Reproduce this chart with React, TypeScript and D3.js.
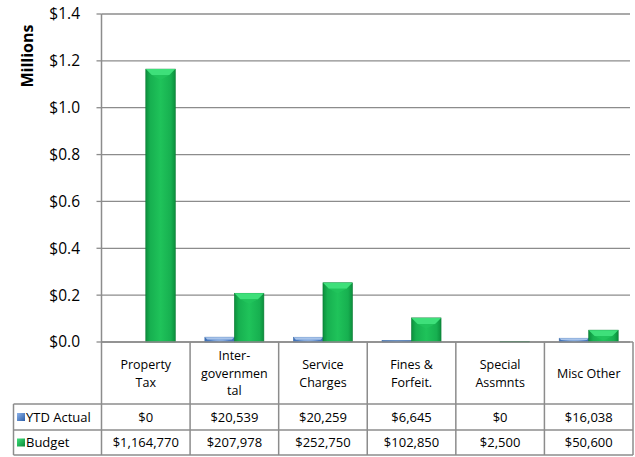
import React from "react";
import * as d3 from "d3";

const categories = [
  ["Property", "Tax"],
  ["Inter-", "governmen", "tal"],
  ["Service", "Charges"],
  ["Fines &", "Forfeit."],
  ["Special", "Assmnts"],
  ["Misc Other"],
];
const ytdActual = [0, 20539, 20259, 6645, 0, 16038];
const budget = [1164770, 207978, 252750, 102850, 2500, 50600];
const yTicks = [0, 0.2, 0.4, 0.6, 0.8, 1.0, 1.2, 1.4];
const seriesNames = ["YTD Actual", "Budget"];

const W = 635, H = 457;
const left = 101.5, right = 633, top = 14, bottom = 342;
const rowHeader = 404, rowYtd = 430, rowBudget = 455;
const tableLeft = 13.5;
const FONT = "'Open Sans', sans-serif";
const gridColor = "#8c8c8c";

export default function App() {
  const x = d3.scaleBand<number>().domain(d3.range(categories.length)).range([left, right]);
  const y = d3.scaleLinear().domain([0, 1.4]).range([bottom, top]);
  const bw = x.bandwidth() * 0.333;
  const fmt = (v: number) => "$" + d3.format(",")(v);

  const bar = (i: number, v: number, s: number) => {
    const cx = x(i)! + x.bandwidth() / 2;
    const x0 = s === 0 ? cx - bw : cx;
    const yv = y(v / 1e6);
    const h = bottom - yv;
    if (h <= 0.3) return null;
    const bev = Math.min(6, h / 2);
    const fill = s === 0 ? "url(#gBlue)" : "url(#gGreen)";
    const topFill = s === 0 ? "#a9c4ea" : "#3ee07a";
    return (
      <g key={`b${s}-${i}`}>
        <rect x={x0} y={yv} width={bw} height={h} fill={fill} stroke={s === 0 ? "#3b6aa8" : "#0b7a34"} strokeWidth={0.6} />
        {h > 3 && (
          <>
            <polygon points={`${x0},${yv} ${x0 + bw},${yv} ${x0 + bw - bev},${yv + bev} ${x0 + bev},${yv + bev}`} fill={topFill} />
            <polygon points={`${x0 + bev},${yv + bev} ${x0 + bw - bev},${yv + bev} ${x0 + bw / 2},${yv + bev * 1.8}`} fill={s === 0 ? "#8fb0df" : "#22c45c"} opacity={0.8} />
          </>
        )}
      </g>
    );
  };

  return (
    <svg width={W} height={H} style={{ position: "absolute", left: 0, top: 0, background: "#fff" }}>
      <defs>
        <linearGradient id="gGreen" x1="0" x2="1" y1="0" y2="0">
          <stop offset="0" stopColor="#0c8f3d" />
          <stop offset="0.15" stopColor="#17b050" />
          <stop offset="0.5" stopColor="#1fc35a" />
          <stop offset="0.85" stopColor="#17b050" />
          <stop offset="1" stopColor="#0c8f3d" />
        </linearGradient>
        <linearGradient id="gBlue" x1="0" x2="1" y1="0" y2="0">
          <stop offset="0" stopColor="#3d6eb5" />
          <stop offset="0.5" stopColor="#6f9ee0" />
          <stop offset="1" stopColor="#3d6eb5" />
        </linearGradient>
        <linearGradient id="kBlue" x1="0" x2="1" y1="0" y2="1">
          <stop offset="0" stopColor="#8db3ea" />
          <stop offset="1" stopColor="#2c5ea8" />
        </linearGradient>
        <linearGradient id="kGreen" x1="0" x2="1" y1="0" y2="1">
          <stop offset="0" stopColor="#3fe07c" />
          <stop offset="1" stopColor="#0b8a38" />
        </linearGradient>
      </defs>

      {yTicks.map((t) => (
        <g key={t}>
          <line x1={left} x2={right - 3} y1={y(t)} y2={y(t)} stroke={gridColor} strokeWidth={1.3} />
          <line x1={left - 5} x2={left} y1={y(t)} y2={y(t)} stroke={gridColor} strokeWidth={1.3} />
          <text x={80} y={y(t)} dy="0.35em" textAnchor="end" fontFamily={FONT} fontSize={15.5} fill="#000">
            {"$" + t.toFixed(1)}
          </text>
        </g>
      ))}
      <text transform={`translate(33,56) rotate(-90)`} textAnchor="middle" fontFamily={FONT} fontSize={16} fontWeight="bold">
        Millions
      </text>

      {categories.map((_, i) => bar(i, ytdActual[i], 0))}
      {categories.map((_, i) => bar(i, budget[i], 1))}

      <g stroke={gridColor} strokeWidth={1.5} fill="none">
        <line x1={left} x2={left} y1={top} y2={rowBudget} />
        <line x1={left} x2={right} y1={bottom} y2={bottom} />
        <line x1={tableLeft} x2={right} y1={rowHeader} y2={rowHeader} />
        <line x1={tableLeft} x2={right} y1={rowYtd} y2={rowYtd} />
        <line x1={tableLeft} x2={right} y1={rowBudget} y2={rowBudget} />
        <line x1={tableLeft} x2={tableLeft} y1={rowHeader} y2={rowBudget} />
        {categories.map((_, i) => (
          <line key={i} x1={x(i)! + x.bandwidth()} x2={x(i)! + x.bandwidth()} y1={bottom} y2={rowBudget} />
        ))}
      </g>

      {categories.map((lines, i) => {
        const cx = x(i)! + x.bandwidth() / 2;
        const mid = (bottom + rowHeader) / 2 + 0.5;
        const lh = 17.5;
        const start = mid - ((lines.length - 1) * lh) / 2;
        return (
          <g key={i} fontFamily={FONT} textAnchor="middle">
            {lines.map((l, j) => (
              <text key={j} x={cx} y={start + j * lh} dy="0.35em" fontSize={12.5}>{l}</text>
            ))}
            <text x={cx} y={(rowHeader + rowYtd) / 2} dy="0.35em" fontSize={13}>{fmt(ytdActual[i])}</text>
            <text x={cx} y={(rowYtd + rowBudget) / 2} dy="0.35em" fontSize={13}>{fmt(budget[i])}</text>
          </g>
        );
      })}

      {seriesNames.map((n, s) => {
        const cy = s === 0 ? (rowHeader + rowYtd) / 2 : (rowYtd + rowBudget) / 2;
        return (
          <g key={n}>
            <rect x={17} y={cy - 4} width={8} height={8} fill={s === 0 ? "url(#kBlue)" : "url(#kGreen)"} />
            <text x={26} y={cy} dy="0.35em" fontFamily={FONT} fontSize={13}>{n}</text>
          </g>
        );
      })}
    </svg>
  );
}
